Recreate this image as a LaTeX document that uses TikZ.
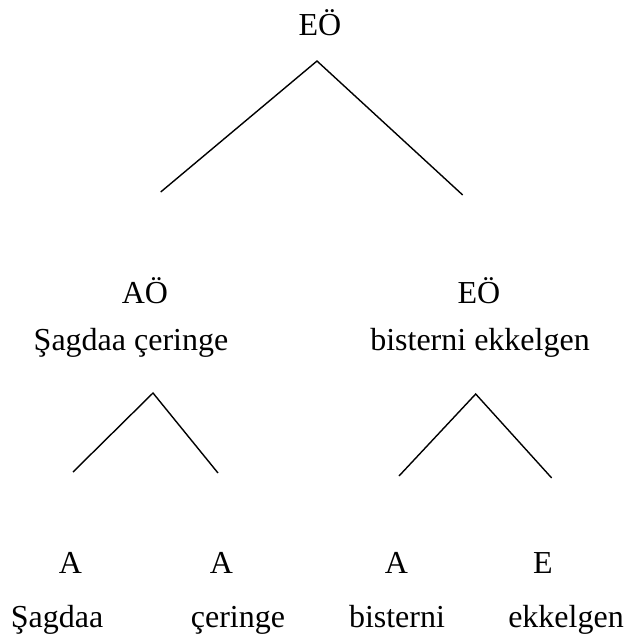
\documentclass[tikz,border=0pt]{standalone}
\usepackage{fontspec}
\setmainfont{Liberation Serif}

\begin{document}
\begin{tikzpicture}[x=0.5pt,y=-0.5pt,
	lbl/.style={anchor=base, font=\fontsize{16}{19}\selectfont},
	branch/.style={line width=0.7pt}]
	\useasboundingbox (0,0) rectangle (626,638);
	% top level
	\node[lbl] (root) at (320,35) {EÖ};
	\coordinate (rootTip) at (317,61);
	\coordinate (rootL) at (160.7,192);
	\coordinate (rootR) at (462.7,195);
	\draw[branch] (rootL) -- (rootTip) -- (rootR);
	% phrases
	\node[lbl] (aoCat) at (145,303) {AÖ};
	\node[lbl] (aoText) at (131,350) {Şagdaa çeringe};
	\node[lbl] (eoCat) at (479,303) {EÖ};
	\node[lbl] (eoText) at (480,350) {bisterni ekkelgen};
	\coordinate (aoTip) at (153,393);
	\coordinate (aoL) at (73,472);
	\coordinate (aoR) at (218,473);
	\draw[branch] (aoL) -- (aoTip) -- (aoR);
	\coordinate (eoTip) at (475.7,394);
	\coordinate (eoL) at (399,476);
	\coordinate (eoR) at (551.7,478);
	\draw[branch] (eoL) -- (eoTip) -- (eoR);
	% words
	\foreach \n/\xc/\c/\xw/\w in {w1/70.5/A/57/Şagdaa, w2/221.5/A/238/çeringe, w3/396.5/A/397/bisterni, w4/543/E/566/ekkelgen}
		{\node[lbl] (\n cat) at (\xc,573) {\c}; \node[lbl] (\n) at (\xw,627) {\w};}
\end{tikzpicture}
\end{document}
